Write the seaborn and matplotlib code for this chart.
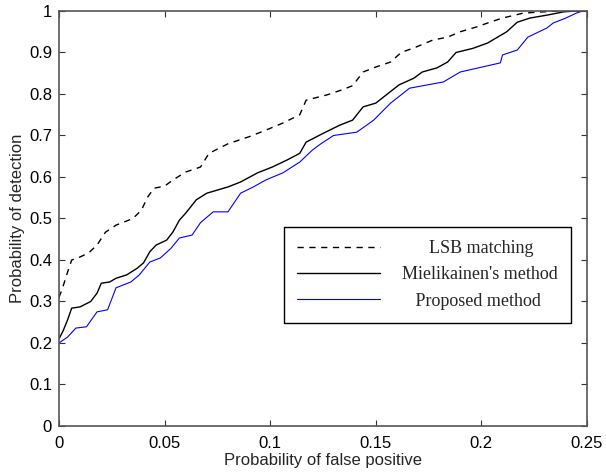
#%% Imports

import matplotlib
matplotlib.use('Agg')
import matplotlib.pyplot as plt
import seaborn as sns
import pandas as pd

#%% ROC data

lsb_fp = [0, 0.0015, 0.004, 0.006, 0.009, 0.014, 0.018, 0.022, 0.027, 0.035, 0.039, 0.042,
          0.045, 0.05, 0.054, 0.06, 0.067, 0.071, 0.08, 0.09, 0.098, 0.106, 0.114, 0.117,
          0.127, 0.134, 0.139, 0.144, 0.15, 0.157, 0.162, 0.169, 0.177, 0.184, 0.19, 0.198,
          0.204, 0.21, 0.22, 0.236, 0.25]
lsb_pd = [0.31, 0.33, 0.37, 0.40, 0.405, 0.417, 0.436, 0.467, 0.484, 0.50, 0.52, 0.552,
          0.573, 0.578, 0.593, 0.612, 0.624, 0.657, 0.68, 0.697, 0.713, 0.73, 0.75, 0.785,
          0.798, 0.81, 0.82, 0.853, 0.865, 0.877, 0.90, 0.913, 0.93, 0.937, 0.95, 0.962,
          0.973, 0.983, 0.995, 1.0, 1.0]

miel_fp = [0, 0.002, 0.004, 0.006, 0.01, 0.015, 0.018, 0.02, 0.024, 0.027, 0.032, 0.037,
           0.04, 0.043, 0.046, 0.051, 0.054, 0.057, 0.06, 0.065, 0.07, 0.08, 0.086, 0.094,
           0.101, 0.108, 0.114, 0.117, 0.125, 0.133, 0.139, 0.144, 0.15, 0.155, 0.161, 0.168,
           0.172, 0.179, 0.184, 0.188, 0.196, 0.203, 0.207, 0.212, 0.217, 0.223, 0.231, 0.239,
           0.245, 0.25]
miel_pd = [0.21, 0.23, 0.255, 0.284, 0.287, 0.30, 0.32, 0.344, 0.347, 0.356, 0.364, 0.38,
           0.393, 0.42, 0.436, 0.448, 0.468, 0.496, 0.513, 0.545, 0.561, 0.576, 0.588, 0.61,
           0.624, 0.641, 0.657, 0.684, 0.705, 0.725, 0.737, 0.769, 0.778, 0.798, 0.822, 0.838,
           0.853, 0.863, 0.877, 0.90, 0.91, 0.923, 0.935, 0.95, 0.973, 0.983, 0.99, 0.998,
           1.0, 1.0]

prop_fp = [0, 0.004, 0.008, 0.013, 0.018, 0.023, 0.027, 0.034, 0.038, 0.043, 0.048, 0.053,
           0.057, 0.063, 0.067, 0.073, 0.08, 0.086, 0.092, 0.098, 0.106, 0.114, 0.12, 0.124,
           0.13, 0.141, 0.149, 0.157, 0.166, 0.182, 0.19, 0.209, 0.21, 0.217, 0.222, 0.231,
           0.234, 0.24, 0.245, 0.248, 0.25]
prop_pd = [0.20, 0.214, 0.236, 0.239, 0.275, 0.28, 0.333, 0.347, 0.364, 0.395, 0.405, 0.428,
           0.453, 0.46, 0.49, 0.516, 0.516, 0.561, 0.576, 0.593, 0.61, 0.636, 0.665, 0.68,
           0.70, 0.708, 0.737, 0.778, 0.814, 0.829, 0.853, 0.875, 0.894, 0.906, 0.937, 0.959,
           0.971, 0.983, 0.995, 1.0, 1.0]

labels = ['LSB matching', "Mielikainen's method", 'Proposed method']

xticks = [0, 0.05, 0.1, 0.15, 0.2, 0.25]
xtick_labels = ['0', '0.05', '0.1', '0.15', '0.2', '0.25']
yticks = [0, 0.1, 0.2, 0.3, 0.4, 0.5, 0.6, 0.7, 0.8, 0.9, 1.0]
ytick_labels = ['0', '0.1', '0.2', '0.3', '0.4', '0.5', '0.6', '0.7', '0.8', '0.9', '1']

#%% Plot

sns.set_theme(style = 'white')
plt.rcParams['font.family'] = ['Liberation Sans', 'DejaVu Sans']

fig = plt.figure(figsize = (6.06, 4.72), dpi = 100)
ax = fig.add_axes([0.0974, 0.0975, 0.8712, 0.8792])

sns.lineplot(x = lsb_fp, y = lsb_pd, ax = ax, color = 'black', linewidth = 1.0,
             estimator = None, sort = False, linestyle = (0, (4.5, 4)),
             label = labels[0])
sns.lineplot(x = miel_fp, y = miel_pd, ax = ax, color = 'black', linewidth = 1.0,
             estimator = None, sort = False, label = labels[1])
sns.lineplot(x = prop_fp, y = prop_pd, ax = ax, color = '#0000ff', linewidth = 0.8,
             estimator = None, sort = False, label = labels[2])

ax.set_xlim(0, 0.25)
ax.set_ylim(0, 1)
ax.set_xticks(xticks)
ax.set_xticklabels(xtick_labels)
ax.set_yticks(yticks)
ax.set_yticklabels(ytick_labels)
ax.tick_params(direction = 'in', length = 4, width = 0.8, colors = '#333333',
               labelcolor = 'black', labelsize = 12, top = True, right = True,
               bottom = True, left = True, pad = 5)
ax.tick_params(axis = 'x', pad = 7)
for sp in ax.spines.values():
    sp.set_color('#555555')
    sp.set_linewidth(1.2)

ax.set_xlabel('Probability of false positive', fontsize = 12, labelpad = 1.5)
ax.set_ylabel('Probability of detection', fontsize = 12, labelpad = 3)

handles, _ = ax.get_legend_handles_labels()
leg_labels = ['      ' + labels[0], labels[1], '   ' + labels[2]]
leg = ax.legend(handles, leg_labels, loc = 'lower left', bbox_to_anchor = (0.426, 0.248),
                borderaxespad = 0, frameon = True, fancybox = False, framealpha = 1,
                edgecolor = 'black', handlelength = 4.55, handletextpad = 1.25,
                labelspacing = 0.5, borderpad = 0.75,
                prop = {'family': ['Liberation Serif', 'DejaVu Serif'], 'size': 13})
leg.get_frame().set_linewidth(1.0)

fig.savefig('out.png', dpi = 100)
